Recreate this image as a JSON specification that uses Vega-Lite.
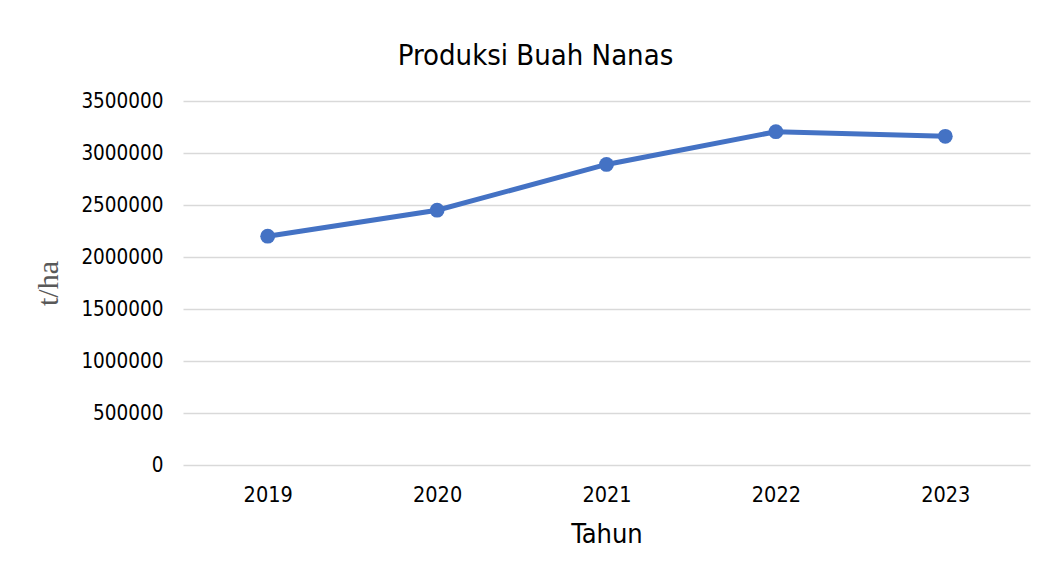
{
  "$schema": "https://vega.github.io/schema/vega-lite/v6.json",
  "width": 847,
  "height": 364,
  "autosize": {"type": "none"},
  "padding": {"left": 183, "top": 101, "right": 16, "bottom": 114},
  "background": "white",
  "title": {
    "text": "Produksi Buah Nanas",
    "font": "DejaVu Sans Condensed, DejaVu Sans",
    "fontSize": 29,
    "fontWeight": "normal",
    "color": "#000000",
    "anchor": "middle",
    "dx": -71,
    "offset": 20
  },
  "data": {
    "values": [
      {"Tahun": "2019", "Produksi": 2200000},
      {"Tahun": "2020", "Produksi": 2450000},
      {"Tahun": "2021", "Produksi": 2890000},
      {"Tahun": "2022", "Produksi": 3205000},
      {"Tahun": "2023", "Produksi": 3160000}
    ]
  },
  "mark": {"type": "line", "color": "#4472C4", "strokeWidth": 5, "point": {"filled": true, "size": 220, "color": "#4472C4", "opacity": 1}},
  "encoding": {
    "x": {
      "field": "Tahun",
      "type": "ordinal",
      "scale": {"type": "point", "padding": 0.5},
      "axis": {
        "title": "Tahun",
        "labelAngle": 0,
        "labelFont": "DejaVu Sans Condensed, DejaVu Sans",
        "labelFontSize": 21.5,
        "labelColor": "#000000",
        "labelPadding": 19,
        "titleFont": "DejaVu Sans Condensed, DejaVu Sans",
        "titleFontSize": 27,
        "titleFontWeight": "normal",
        "titleColor": "#000000",
        "titlePadding": 16,
        "domain": false,
        "ticks": false,
        "grid": false
      }
    },
    "y": {
      "field": "Produksi",
      "type": "quantitative",
      "scale": {"domain": [0, 3500000], "nice": false},
      "axis": {
        "title": "t/ha",
        "values": [0, 500000, 1000000, 1500000, 2000000, 2500000, 3000000, 3500000],
        "format": "d",
        "labelFont": "DejaVu Sans Condensed, DejaVu Sans",
        "labelFontSize": 20.5,
        "labelColor": "#000000",
        "labelPadding": 20,
        "titleFont": "Liberation Serif",
        "titleFontSize": 30,
        "titleFontWeight": "normal",
        "titleColor": "#595959",
        "titlePadding": 17,
        "domain": false,
        "ticks": false,
        "grid": true,
        "gridColor": "#d9d9d9",
        "gridWidth": 1.5
      }
    }
  },
  "config": {"view": {"stroke": null}}
}
